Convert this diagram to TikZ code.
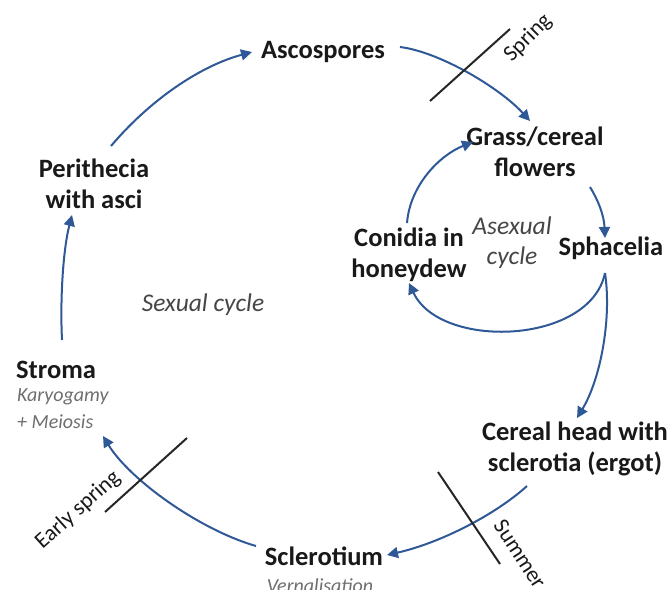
\documentclass[tikz,border=0pt]{standalone}
\usepackage{fontspec}
\setmainfont{Carlito}
\usetikzlibrary{arrows.meta}
\definecolor{arrowblue}{RGB}{47,88,150}
\definecolor{txt}{RGB}{25,25,25}
\definecolor{itl}{RGB}{70,70,70}
\definecolor{lightitl}{RGB}{110,110,110}
\tikzset{
  stage/.style={font=\fontsize{26.5}{31}\selectfont\bfseries, text=txt, align=center, inner sep=0pt},
  note/.style={font=\fontsize{25.5}{30}\selectfont\itshape, text=itl, align=center, inner sep=0pt},
  subnote/.style={font=\fontsize{20}{25}\selectfont\itshape, text=lightitl, align=left, inner sep=0pt},
  season/.style={font=\fontsize{22.5}{26}\selectfont, text=txt, inner sep=0pt},
  flow/.style={draw=arrowblue, line width=2pt, -{Triangle[length=11pt,width=11pt]}},
  divider/.style={draw=black!85, line width=2pt}
}
\begin{document}
\begin{tikzpicture}[x=1pt,y=-1pt]
\useasboundingbox (0,0) rectangle (669,589);

% stage nodes
\node[stage] (asco) at (323,52) {Ascospores};
\node[stage] (grass) at (535,152) {Grass/cereal\\flowers};
\node[stage] (spha) at (611,248) {Sphacelia};
\node[stage] (coni) at (409,255) {Conidia in\\honeydew};
\node[stage] (peri) at (94,184) {Perithecia\\with asci};
\node[stage, anchor=west] (stroma) at (16,370) {Stroma};
\node[subnote, anchor=west] (karyo) at (17,397) {Karyogamy};
\node[subnote, anchor=west] (meio) at (17,422) {+ Meiosis};
\node[stage] (head) at (575,449) {Cereal head with\\sclerotia (ergot)};
\node[stage] (scler) at (324,556) {Sclerotium};
\node[subnote] (vern) at (320,586) {Vernalisation};

% cycle labels
\node[note] (sex) at (203,305) {Sexual cycle};
\node[note] (asex) at (512,243) {Asexual\\cycle};

% arrow end points
\coordinate (p1s) at (111,146);
\coordinate (p1e) at (252,52);
\coordinate (p2s) at (400,47);
\coordinate (p2e) at (530,121);
\coordinate (p3s) at (62,340);
\coordinate (p3e) at (72,215);
\coordinate (p4s) at (256,546);
\coordinate (p4e) at (103,436);
\coordinate (p5s) at (527,486);
\coordinate (p5e) at (387,555);
\coordinate (p6s) at (605,273);
\coordinate (p6e) at (577,418);
\coordinate (p7e) at (409,283);
\coordinate (p8s) at (407,223);
\coordinate (p8e) at (473,142);
\coordinate (p9s) at (590,187);
\coordinate (p9e) at (605,238);

% connectors
\draw[flow] (p1s) .. controls (150,100) and (200,66) .. (p1e);
\draw[flow] (p2s) .. controls (440,52) and (500,88) .. (p2e);
\draw[flow] (p3s) .. controls (60,300) and (63,250) .. (p3e);
\draw[flow] (p4s) .. controls (200,530) and (130,480) .. (p4e);
\draw[flow] (p5s) .. controls (495,515) and (440,543) .. (p5e);
\draw[flow] (p6s) .. controls (612,320) and (600,380) .. (p6e);
\draw[flow] (p6s) .. controls (590,345) and (440,350) .. (p7e);
\draw[flow] (p8s) .. controls (410,185) and (440,155) .. (p8e);
\draw[flow] (p9s) .. controls (598,200) and (604,215) .. (p9e);

% season dividers
\coordinate (sp1) at (430,101);
\coordinate (sp2) at (510,29);
\draw[divider] (sp1) -- (sp2);
\node[season, rotate=45] (spring) at (528,38) {Spring};

\coordinate (es1) at (105,512);
\coordinate (es2) at (187,438);
\draw[divider] (es1) -- (es2);
\node[season, rotate=42] (early) at (78,510) {Early spring};

\coordinate (su1) at (438,472);
\coordinate (su2) at (500,564);
\draw[divider] (su1) -- (su2);
\node[season, rotate=-57] (summer) at (520,554) {Summer};
\end{tikzpicture}
\end{document}
